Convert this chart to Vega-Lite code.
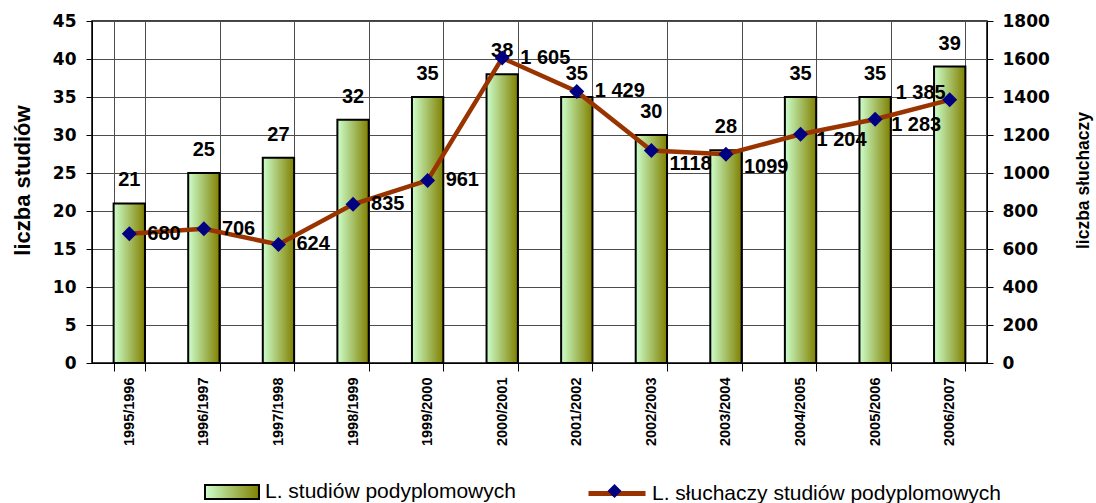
{
  "$schema": "https://vega.github.io/schema/vega-lite/v6.json",
  "width": 895,
  "height": 342,
  "autosize": {"type": "none"},
  "padding": {"left": 92, "top": 21, "right": 109, "bottom": 140},
  "background": "white",
  "config": {
    "view": {"stroke": "#000000", "strokeWidth": 1.5},
    "font": "Liberation Sans",
    "axis": {"domainColor": "#000000", "tickColor": "#000000", "labelColor": "#000000", "titleColor": "#000000", "gridColor": "#4d4d4d", "gridWidth": 1, "gridOpacity": 1},
    "legend": {"padding": 0, "labelColor": "#000000", "labelFont": "Liberation Sans", "labelFontSize": 21, "labelFontWeight": "normal", "labelLimit": 600}
  },
  "data": {
    "values": [
      {"rok": "1995/1996", "studia": 21, "sluchacze": 680, "etykieta": "680"},
      {"rok": "1996/1997", "studia": 25, "sluchacze": 706, "etykieta": "706"},
      {"rok": "1997/1998", "studia": 27, "sluchacze": 624, "etykieta": "624"},
      {"rok": "1998/1999", "studia": 32, "sluchacze": 835, "etykieta": "835"},
      {"rok": "1999/2000", "studia": 35, "sluchacze": 961, "etykieta": "961"},
      {"rok": "2000/2001", "studia": 38, "sluchacze": 1605, "etykieta": "1 605"},
      {"rok": "2001/2002", "studia": 35, "sluchacze": 1429, "etykieta": "1 429"},
      {"rok": "2002/2003", "studia": 30, "sluchacze": 1118, "etykieta": "1118"},
      {"rok": "2003/2004", "studia": 28, "sluchacze": 1099, "etykieta": "1099"},
      {"rok": "2004/2005", "studia": 35, "sluchacze": 1204, "etykieta": "1 204"},
      {"rok": "2005/2006", "studia": 35, "sluchacze": 1283, "etykieta": "1 283"},
      {"rok": "2006/2007", "studia": 39, "sluchacze": 1385, "etykieta": "1 385"}
    ]
  },
  "encoding": {
    "x": {
      "field": "rok",
      "type": "ordinal",
      "sort": null,
      "scale": {"paddingInner": 0.58, "paddingOuter": 0.29},
      "axis": {
        "title": null,
        "labelAngle": 270,
        "labelFont": "Liberation Sans",
        "labelFontSize": 14.5,
        "labelFontWeight": "bold",
        "tickBand": "extent",
        "tickSize": 8,
        "labelPadding": 6,
        "grid": true
      }
    }
  },
  "layer": [
    {
      "encoding": {
        "y": {
          "field": "studia",
          "type": "quantitative",
          "scale": {"domain": [0, 45], "nice": false},
          "axis": {
            "title": "liczba studiów",
            "values": [0, 5, 10, 15, 20, 25, 30, 35, 40, 45],
            "grid": true,
            "tickSize": 6,
            "labelPadding": 10,
            "labelFont": "DejaVu Sans",
            "labelFontSize": 17,
            "labelFontWeight": "bold",
            "titleFont": "Liberation Sans",
            "titleFontSize": 22,
            "titleFontWeight": "bold",
            "titlePadding": 18,
            "titleY": 159
          }
        }
      },
      "layer": [
        {
          "mark": {
            "type": "bar",
            "fill": {"gradient": "linear", "x1": 0, "y1": 0, "x2": 1, "y2": 0, "stops": [{"offset": 0, "color": "#ccffcc"}, {"offset": 1, "color": "#808000"}]},
            "strokeWidth": 2
          },
          "encoding": {
            "stroke": {
              "datum": "L. studiów podyplomowych",
              "scale": {"range": ["#000000"]},
              "legend": {
                "title": null,
                "orient": "none",
                "legendX": 112,
                "legendY": 443,
                "symbolType": "M-1,-0.26H1V0.26H-1Z",
                "symbolSize": 2916,
                "symbolStrokeWidth": 2,
                "symbolStrokeColor": "#000000",
                "labelOffset": 5,
                "encode": {
                  "symbols": {
                    "update": {
                      "fill": {"value": {"gradient": "linear", "x1": 0, "y1": 0, "x2": 1, "y2": 0, "stops": [{"offset": 0, "color": "#ccffcc"}, {"offset": 1, "color": "#808000"}]}},
                      "stroke": {"value": "#000000"},
                      "opacity": {"value": 1}
                    }
                  }
                }
              }
            }
          }
        },
        {
          "mark": {"type": "text", "dy": -17, "baseline": "alphabetic", "align": "center", "font": "Liberation Sans", "fontSize": 20, "fontWeight": "bold", "color": "#000000"},
          "encoding": {"text": {"field": "studia", "type": "quantitative"}}
        }
      ]
    },
    {
      "encoding": {
        "y": {
          "field": "sluchacze",
          "type": "quantitative",
          "scale": {"domain": [0, 1800], "nice": false},
          "axis": {
            "orient": "right",
            "title": "liczba słuchaczy",
            "values": [0, 200, 400, 600, 800, 1000, 1200, 1400, 1600, 1800],
            "format": "d",
            "grid": false,
            "tickSize": 6,
            "labelPadding": 9,
            "labelFont": "DejaVu Sans",
            "labelFontSize": 17,
            "labelFontWeight": "bold",
            "titleFont": "Liberation Sans",
            "titleFontSize": 17.5,
            "titleFontWeight": "bold",
            "titleAngle": 270,
            "titleBaseline": "top",
            "titleAlign": "center",
            "titleX": 87,
            "titleY": 159
          }
        }
      },
      "layer": [
        {
          "mark": {"type": "line", "strokeWidth": 4.5},
          "encoding": {
            "color": {
              "datum": "L. słuchaczy studiów podyplomowych",
              "scale": {"range": ["#993300"]},
              "legend": {
                "title": null,
                "orient": "none",
                "legendX": 494,
                "legendY": 441.5,
                "symbolType": "M-1,0H1",
                "symbolSize": 3249,
                "symbolStrokeWidth": 5,
                "labelOffset": 4
              }
            }
          }
        },
        {
          "mark": {"type": "point", "shape": "diamond", "filled": true, "size": 225, "opacity": 1},
          "encoding": {
            "fill": {
              "datum": "znacznik",
              "scale": {"range": ["#000080"]},
              "legend": {
                "title": null,
                "orient": "none",
                "legendX": 515.5,
                "legendY": 463,
                "symbolType": "diamond",
                "symbolSize": 196,
                "symbolStrokeWidth": 0,
                "labelExpr": "''",
                "labelFontSize": 1,
                "labelOffset": 0
              }
            }
          }
        },
        {
          "transform": [{"filter": "indexof(['1995/1996','1996/1997','1997/1998','1998/1999','1999/2000','2000/2001','2001/2002'], datum.rok) >= 0"}],
          "mark": {"type": "text", "dx": 18, "dy": 0, "align": "left", "baseline": "middle", "font": "Liberation Sans", "fontSize": 20, "fontWeight": "bold", "color": "#000000"},
          "encoding": {"text": {"field": "etykieta"}}
        },
        {
          "transform": [{"filter": "indexof(['2002/2003','2003/2004'], datum.rok) >= 0"}],
          "mark": {"type": "text", "dx": 18, "dy": 13, "align": "left", "baseline": "middle", "font": "Liberation Sans", "fontSize": 20, "fontWeight": "bold", "color": "#000000"},
          "encoding": {"text": {"field": "etykieta"}}
        },
        {
          "transform": [{"filter": "indexof(['2004/2005','2005/2006'], datum.rok) >= 0"}],
          "mark": {"type": "text", "dx": 16, "dy": 6, "align": "left", "baseline": "middle", "font": "Liberation Sans", "fontSize": 20, "fontWeight": "bold", "color": "#000000"},
          "encoding": {"text": {"field": "etykieta"}}
        },
        {
          "transform": [{"filter": "datum.rok == '2006/2007'"}],
          "mark": {"type": "text", "dx": -4, "dy": -7, "align": "right", "baseline": "middle", "font": "Liberation Sans", "fontSize": 20, "fontWeight": "bold", "color": "#000000"},
          "encoding": {"text": {"field": "etykieta"}}
        }
      ]
    }
  ],
  "resolve": {"scale": {"y": "independent"}}
}
